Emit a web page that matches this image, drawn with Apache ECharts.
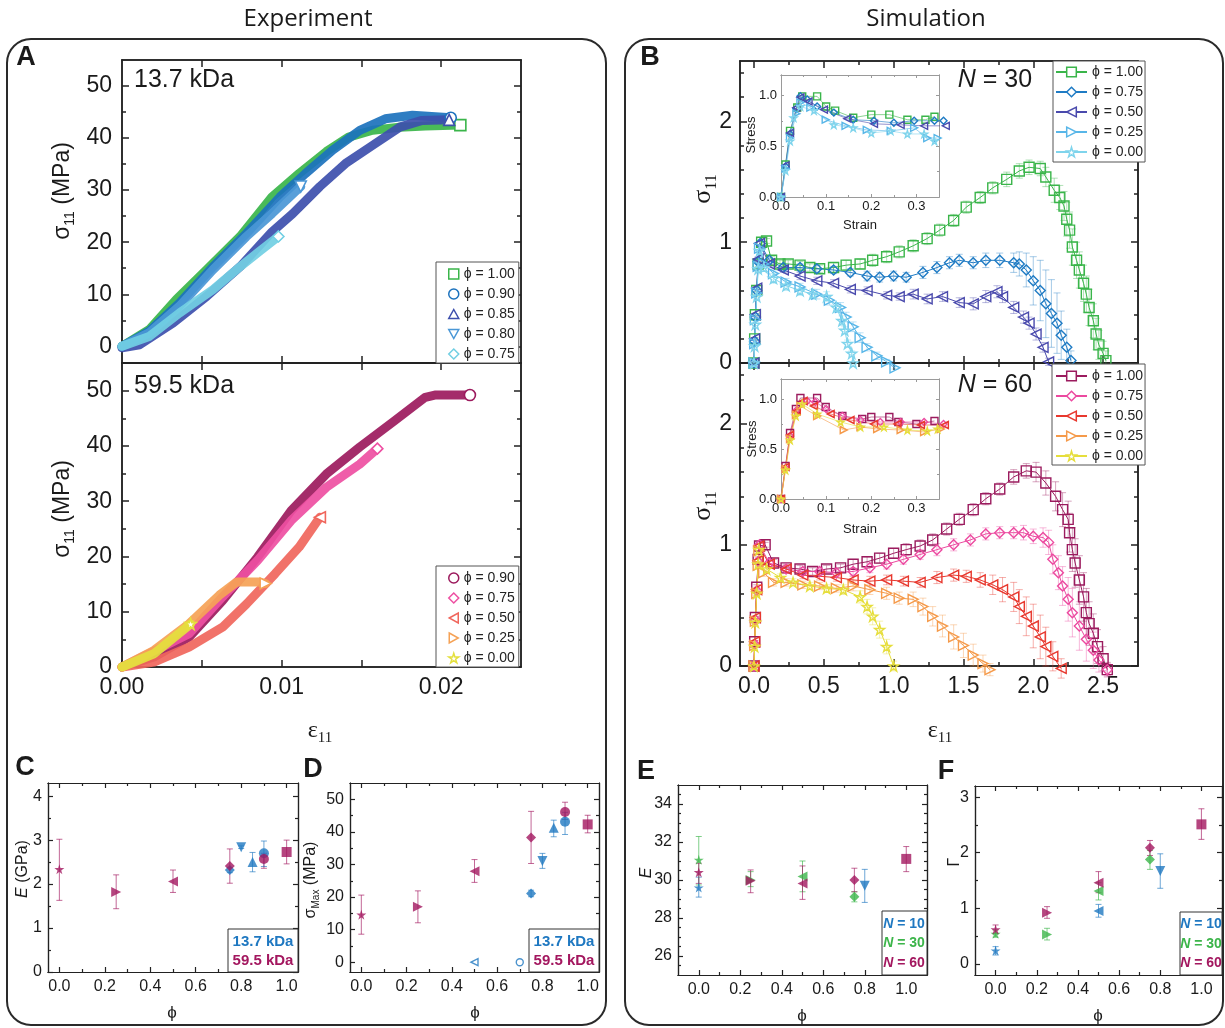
<!DOCTYPE html>
<html>
<head>
<meta charset="utf-8">
<script src="https://cdn.jsdelivr.net/npm/echarts@6/dist/echarts.min.js"></script>
<style>
html, body { margin: 0; background: #fff; }
#main { width: 1225px; height: 1028px; }
</style>
</head>
<body>
<div id="main"></div>
<script>
// ---------- data ----------
// Panel A, 13.7 kDa  [strain, stress MPa]
var a13_100 = [[0,0],[0.0017,3.2],[0.0034,9.0],[0.0053,14.7],[0.0074,21.1],[0.0094,28.7],[0.0111,33.2],[0.0128,37.4],[0.0142,40.2],[0.0157,41.5],[0.0174,42.1],[0.019,42.3],[0.0212,42.5]];
var a13_090 = [[0,0],[0.0017,2.9],[0.0036,8.3],[0.0057,15.3],[0.0078,21.7],[0.0099,28.7],[0.0115,33.2],[0.0132,37.7],[0.0149,41.5],[0.0165,43.7],[0.0182,44.4],[0.0206,43.9]];
var a13_085 = [[0,-0.3],[0.0011,0.3],[0.0032,4.5],[0.0053,9.6],[0.0074,15.3],[0.0094,22.0],[0.0107,25.5],[0.0124,30.7],[0.014,35.1],[0.0157,38.6],[0.0174,42.1],[0.0188,43.4],[0.0205,43.5]];
var a13_080 = [[0,0],[0.0017,2.6],[0.0036,7.7],[0.0057,14.7],[0.0078,21.1],[0.0094,25.5],[0.0112,30.7]];
var a13_075 = [[0,0],[0.0017,1.9],[0.0036,6.4],[0.0057,10.9],[0.0074,15.3],[0.0086,18.2],[0.0098,21.1]];
// Panel A, 59.5 kDa
var a59_090 = [[0,0],[0.002,1.8],[0.0042,5.4],[0.0063,12.0],[0.0085,19.9],[0.0106,28.3],[0.0128,34.9],[0.0149,39.8],[0.0171,44.6],[0.019,48.8],[0.0196,49.2],[0.0218,49.2]];
var a59_075 = [[0,0],[0.0042,6.0],[0.0063,12.7],[0.0085,19.3],[0.0106,26.5],[0.0128,32.5],[0.0149,36.7],[0.016,39.5]];
var a59_050 = [[0,0],[0.002,0.9],[0.0042,3.6],[0.0063,7.2],[0.0078,11.4],[0.0096,16.9],[0.0111,21.7],[0.0124,27.1]];
var a59_025 = [[0,0],[0.002,3.0],[0.0042,7.8],[0.0061,13.0],[0.0072,15.4],[0.0085,15.4],[0.009,15.1]];
var a59_000 = [[0,0],[0.002,2.4],[0.0043,7.8]];

// Panel B, N = 30  [strain, stress, error]
var b30_100 = [[0,0,0.01],[0.005,0.2,0.01],[0.01,0.4,0.01],[0.02,0.6,0.01],[0.03,0.82,0.02],[0.055,1.0,0.02],[0.09,1.01,0.02],[0.126,0.85,0.03],[0.186,0.82,0.03],[0.245,0.82,0.03],[0.33,0.81,0.03],[0.4,0.79,0.03],[0.47,0.78,0.03],[0.57,0.79,0.04],[0.66,0.81,0.04],[0.76,0.82,0.04],[0.85,0.85,0.05],[0.95,0.88,0.05],[1.04,0.92,0.05],[1.14,0.97,0.05],[1.24,1.03,0.05],[1.33,1.1,0.05],[1.43,1.18,0.05],[1.52,1.29,0.05],[1.62,1.37,0.05],[1.71,1.45,0.05],[1.81,1.52,0.06],[1.9,1.59,0.06],[1.97,1.62,0.06],[2.05,1.61,0.06],[2.09,1.54,0.08],[2.15,1.43,0.1],[2.19,1.37,0.1],[2.22,1.3,0.12],[2.24,1.19,0.14],[2.26,1.1,0.15],[2.28,0.96,0.15],[2.31,0.85,0.15],[2.33,0.77,0.15],[2.36,0.66,0.15],[2.38,0.57,0.15],[2.4,0.46,0.15],[2.43,0.35,0.14],[2.45,0.24,0.13],[2.47,0.15,0.12],[2.5,0.08,0.1],[2.52,0.02,0.08]];
var b30_075 = [[0,0,0.01],[0.005,0.18,0.01],[0.01,0.38,0.01],[0.02,0.6,0.01],[0.03,0.84,0.02],[0.045,0.99,0.02],[0.11,0.85,0.02],[0.21,0.79,0.03],[0.33,0.79,0.03],[0.45,0.78,0.03],[0.57,0.77,0.03],[0.69,0.75,0.03],[0.81,0.72,0.04],[0.9,0.71,0.04],[1.0,0.72,0.04],[1.09,0.71,0.04],[1.21,0.75,0.05],[1.31,0.79,0.05],[1.4,0.83,0.05],[1.47,0.85,0.05],[1.57,0.83,0.05],[1.66,0.85,0.06],[1.76,0.85,0.06],[1.86,0.83,0.08],[1.9,0.82,0.1],[1.95,0.77,0.14],[2.0,0.68,0.2],[2.05,0.6,0.25],[2.09,0.49,0.28],[2.13,0.41,0.28],[2.17,0.33,0.25],[2.2,0.23,0.2],[2.24,0.13,0.15],[2.27,0.02,0.08]];
var b30_050 = [[0,0,0.01],[0.005,0.2,0.01],[0.01,0.4,0.01],[0.02,0.62,0.01],[0.03,0.86,0.02],[0.04,0.99,0.02],[0.11,0.82,0.02],[0.21,0.77,0.02],[0.33,0.72,0.03],[0.45,0.68,0.03],[0.57,0.66,0.03],[0.69,0.61,0.03],[0.81,0.6,0.03],[0.95,0.56,0.03],[1.04,0.55,0.03],[1.14,0.57,0.04],[1.24,0.53,0.04],[1.35,0.55,0.04],[1.47,0.5,0.04],[1.57,0.49,0.05],[1.66,0.55,0.05],[1.74,0.59,0.05],[1.78,0.55,0.05],[1.86,0.46,0.05],[1.93,0.38,0.05],[1.97,0.33,0.05],[2.02,0.24,0.05],[2.07,0.13,0.04],[2.11,0.01,0.03]];
var b30_025 = [[0,0,0.01],[0.005,0.16,0.01],[0.01,0.36,0.01],[0.02,0.58,0.02],[0.03,0.8,0.02],[0.04,0.95,0.02],[0.07,0.82,0.03],[0.14,0.74,0.03],[0.23,0.67,0.03],[0.33,0.63,0.03],[0.45,0.57,0.04],[0.54,0.52,0.04],[0.62,0.46,0.04],[0.66,0.38,0.04],[0.71,0.3,0.04],[0.76,0.21,0.04],[0.81,0.13,0.03],[0.88,0.06,0.03],[0.95,0.01,0.02],[1.01,-0.04,0.01]];
var b30_000 = [[0,0,0.01],[0.005,0.14,0.01],[0.01,0.32,0.01],[0.02,0.55,0.02],[0.03,0.78,0.02],[0.04,0.93,0.03],[0.07,0.79,0.03],[0.14,0.7,0.04],[0.23,0.64,0.04],[0.33,0.6,0.04],[0.42,0.57,0.04],[0.52,0.55,0.04],[0.59,0.46,0.04],[0.63,0.35,0.04],[0.65,0.27,0.03],[0.67,0.16,0.03],[0.7,0.08,0.02],[0.71,0,0.01]];
// Panel B, N = 60
var b60_100 = [[0,0,0.01],[0.005,0.2,0.01],[0.01,0.4,0.01],[0.02,0.65,0.02],[0.03,0.88,0.02],[0.04,0.99,0.02],[0.08,1.0,0.02],[0.14,0.85,0.03],[0.23,0.81,0.03],[0.33,0.8,0.03],[0.42,0.78,0.03],[0.52,0.8,0.03],[0.62,0.81,0.03],[0.71,0.84,0.04],[0.81,0.86,0.04],[0.9,0.89,0.04],[1.0,0.93,0.04],[1.09,0.96,0.05],[1.19,0.99,0.05],[1.28,1.04,0.05],[1.38,1.13,0.05],[1.47,1.21,0.05],[1.57,1.29,0.05],[1.66,1.38,0.05],[1.76,1.46,0.05],[1.86,1.56,0.06],[1.95,1.61,0.06],[2.02,1.6,0.08],[2.09,1.51,0.1],[2.16,1.4,0.12],[2.21,1.29,0.14],[2.25,1.21,0.15],[2.26,1.1,0.16],[2.28,0.96,0.18],[2.3,0.85,0.2],[2.33,0.71,0.2],[2.36,0.57,0.2],[2.38,0.44,0.2],[2.4,0.35,0.18],[2.43,0.27,0.16],[2.46,0.16,0.14],[2.5,0.06,0.1],[2.53,-0.03,0.06]];
var b60_075 = [[0,0,0.01],[0.005,0.18,0.01],[0.01,0.38,0.01],[0.02,0.62,0.02],[0.03,0.86,0.02],[0.04,1.0,0.02],[0.11,0.85,0.03],[0.23,0.8,0.03],[0.35,0.78,0.03],[0.47,0.78,0.03],[0.59,0.77,0.03],[0.71,0.78,0.03],[0.83,0.81,0.04],[0.95,0.84,0.04],[1.07,0.88,0.04],[1.19,0.92,0.04],[1.31,0.96,0.05],[1.43,1.0,0.05],[1.55,1.04,0.05],[1.66,1.09,0.05],[1.76,1.1,0.05],[1.86,1.1,0.05],[1.93,1.1,0.06],[2.0,1.07,0.06],[2.07,1.06,0.08],[2.11,1.02,0.1],[2.14,0.88,0.12],[2.18,0.77,0.14],[2.21,0.66,0.16],[2.25,0.55,0.18],[2.28,0.44,0.2],[2.33,0.33,0.2],[2.38,0.22,0.18],[2.43,0.13,0.15],[2.47,0.05,0.1],[2.53,-0.03,0.05]];
var b60_050 = [[0,0,0.01],[0.005,0.2,0.01],[0.01,0.4,0.01],[0.02,0.63,0.02],[0.03,0.87,0.02],[0.035,0.99,0.02],[0.11,0.84,0.03],[0.23,0.8,0.03],[0.35,0.75,0.03],[0.47,0.74,0.03],[0.59,0.73,0.03],[0.71,0.71,0.03],[0.83,0.7,0.04],[0.95,0.71,0.04],[1.07,0.7,0.04],[1.19,0.69,0.04],[1.31,0.73,0.05],[1.43,0.75,0.05],[1.52,0.74,0.05],[1.62,0.71,0.06],[1.71,0.67,0.08],[1.78,0.63,0.1],[1.86,0.57,0.12],[1.9,0.49,0.14],[1.95,0.41,0.16],[2.0,0.33,0.18],[2.05,0.24,0.18],[2.09,0.16,0.16],[2.14,0.08,0.12],[2.2,-0.02,0.08]];
var b60_025 = [[0,0,0.01],[0.005,0.17,0.01],[0.01,0.37,0.01],[0.02,0.6,0.02],[0.03,0.83,0.02],[0.035,0.95,0.02],[0.07,0.77,0.03],[0.14,0.69,0.03],[0.23,0.69,0.03],[0.35,0.67,0.03],[0.47,0.66,0.03],[0.59,0.64,0.03],[0.71,0.66,0.04],[0.83,0.63,0.04],[0.95,0.6,0.05],[1.04,0.56,0.05],[1.14,0.55,0.06],[1.21,0.49,0.07],[1.28,0.41,0.08],[1.35,0.33,0.09],[1.43,0.24,0.1],[1.5,0.17,0.1],[1.57,0.09,0.09],[1.64,0.02,0.07],[1.69,-0.03,0.05]];
var b60_000 = [[0,0,0.01],[0.005,0.16,0.01],[0.01,0.36,0.01],[0.02,0.6,0.02],[0.03,0.84,0.02],[0.035,0.96,0.02],[0.09,0.8,0.03],[0.19,0.73,0.03],[0.28,0.69,0.03],[0.4,0.66,0.03],[0.52,0.64,0.03],[0.64,0.63,0.04],[0.76,0.57,0.05],[0.81,0.49,0.06],[0.85,0.41,0.07],[0.9,0.3,0.07],[0.95,0.16,0.06],[1.0,0,0.04]];

// insets [strain, stress]
var i30_100 = [[0,0],[0.01,0.32],[0.02,0.65],[0.036,0.88],[0.047,0.99],[0.08,0.99],[0.1,0.89],[0.12,0.85],[0.16,0.78],[0.2,0.81],[0.24,0.81],[0.28,0.76],[0.32,0.76],[0.34,0.79]];
var i30_075 = [[0,0],[0.01,0.3],[0.02,0.62],[0.034,0.87],[0.043,0.99],[0.058,0.96],[0.08,0.89],[0.117,0.83],[0.16,0.76],[0.206,0.75],[0.25,0.73],[0.295,0.75],[0.34,0.75],[0.36,0.75]];
var i30_050 = [[0,0],[0.01,0.31],[0.02,0.63],[0.034,0.88],[0.043,0.98],[0.061,0.94],[0.095,0.86],[0.147,0.77],[0.206,0.72],[0.265,0.71],[0.317,0.7],[0.365,0.7]];
var i30_025 = [[0,0],[0.01,0.28],[0.02,0.58],[0.034,0.82],[0.043,0.93],[0.065,0.88],[0.099,0.76],[0.143,0.7],[0.19,0.66],[0.243,0.65],[0.295,0.68],[0.324,0.58],[0.347,0.58]];
var i30_000 = [[0,0],[0.01,0.26],[0.02,0.55],[0.028,0.78],[0.043,0.89],[0.073,0.85],[0.117,0.71],[0.16,0.68],[0.2,0.63],[0.243,0.65],[0.28,0.62],[0.317,0.62],[0.34,0.55]];
var i60_100 = [[0,0],[0.01,0.33],[0.02,0.66],[0.033,0.9],[0.043,1.01],[0.08,1.01],[0.099,0.92],[0.136,0.83],[0.18,0.8],[0.2,0.82],[0.24,0.82],[0.26,0.77],[0.3,0.75],[0.34,0.78]];
var i60_075 = [[0,0],[0.01,0.31],[0.02,0.63],[0.035,0.89],[0.058,0.98],[0.076,0.97],[0.1,0.9],[0.136,0.83],[0.176,0.79],[0.22,0.77],[0.265,0.77],[0.317,0.77],[0.36,0.75]];
var i60_050 = [[0,0],[0.01,0.32],[0.02,0.64],[0.035,0.88],[0.05,0.98],[0.073,0.93],[0.11,0.85],[0.154,0.79],[0.206,0.75],[0.258,0.75],[0.31,0.74],[0.363,0.74]];
var i60_025 = [[0,0],[0.01,0.3],[0.02,0.6],[0.033,0.84],[0.043,0.93],[0.08,0.83],[0.139,0.69],[0.176,0.72],[0.213,0.7],[0.265,0.69],[0.317,0.67],[0.354,0.7]];
var i60_000 = [[0,0],[0.01,0.29],[0.02,0.59],[0.033,0.83],[0.047,0.95],[0.08,0.85],[0.132,0.77],[0.176,0.72],[0.228,0.72],[0.28,0.69],[0.324,0.68],[0.347,0.7]];

// C - F  [phi, value, low, high]
var c137 = [[0.75,2.32,2.26,2.38],[0.8,2.84,2.81,2.87],[0.85,2.5,2.28,2.72],[0.9,2.7,2.4,2.98]];
var c595 = [[0,2.34,1.63,3.02],[0.25,1.82,1.44,2.21],[0.5,2.06,1.81,2.32],[0.75,2.41,2.02,2.8],[0.9,2.57,2.36,2.7],[1.0,2.73,2.46,3.0]];
var d137 = [[0.75,21.1,20.1,22.1],[0.8,31.1,28.8,33.4],[0.85,41.3,38.5,43.6],[0.9,43.1,39.2,46.0]];
var d137zero = [[0.5,0],[0.7,0]];
var d595 = [[0,14.6,8.6,20.6],[0.25,17.0,12.1,21.9],[0.5,27.9,24.5,31.5],[0.75,38.3,30.3,46.3],[0.9,46.1,43.8,49.1],[1.0,42.3,39.7,45.1]];
var eN10 = [[0,29.6,29.1,30.15],[0.8,29.7,28.82,30.56]];
var eN30 = [[0,31.06,29.74,32.29],[0.25,30.0,29.65,30.44],[0.5,30.18,29.38,31.0],[0.75,29.12,28.85,29.38]];
var eN60 = [[0,30.41,29.82,30.88],[0.25,29.96,29.33,30.53],[0.5,29.82,28.98,30.74],[0.75,30.0,29.38,30.62],[1.0,31.11,30.44,31.76]];
var fN10 = [[0,0.24,0.16,0.31],[0.5,0.95,0.84,1.07],[0.8,1.67,1.36,1.98]];
var fN30 = [[0,0.54,0.48,0.61],[0.25,0.53,0.43,0.64],[0.5,1.31,1.15,1.46],[0.75,1.88,1.7,2.04]];
var fN60 = [[0,0.62,0.55,0.7],[0.25,0.92,0.82,1.03],[0.5,1.46,1.28,1.66],[0.75,2.09,1.95,2.22],[1.0,2.51,2.24,2.79]];

var phiLabels = ['ϕ = 1.00', 'ϕ = 0.90', 'ϕ = 0.85', 'ϕ = 0.80', 'ϕ = 0.75', 'ϕ = 0.50', 'ϕ = 0.25', 'ϕ = 0.00'];

// ---------- styling ----------
var SANS = '"Liberation Sans", Arial, sans-serif';
var SERIF = '"Liberation Serif", "Times New Roman", serif';
var BLUE = '#1f78c1', GREEN = '#3cb54a', MAG = '#a3175f';

var SYM = {
  sq: 'rect',
  ci: 'circle',
  di: 'diamond',
  up: 'path://M5,0L10,9L0,9Z',
  dn: 'path://M0,0L10,0L5,9Z',
  lt: 'path://M0,5L9,0L9,10Z',
  rt: 'path://M0,0L9,5L0,10Z',
  st: 'path://M50,0L61,35L98,35L68,57L79,91L50,70L21,91L32,57L2,35L39,35Z'
};
function phiSym(p) {
  if (p === 0) return SYM.st;
  if (p === 0.25) return SYM.rt;
  if (p === 0.5) return SYM.lt;
  if (p === 0.7) return SYM.ci;
  if (p === 0.75) return SYM.di;
  if (p === 0.8) return SYM.dn;
  if (p === 0.85) return SYM.up;
  if (p === 0.9) return SYM.ci;
  return SYM.sq;
}

function rng(a, b, s) {
  var out = [];
  for (var i = 0; a + i * s <= b + 1e-9; i++) out.push(+(a + i * s).toFixed(6));
  return out;
}

var grids = [], xAxes = [], yAxes = [], series = [], legends = [], gfx = [];

function ax(g, pos, min, max, ticks, len, labels, o, d) {
  return {
    gridIndex: g, type: 'value', position: pos, min: min, max: max,
    axisLine: { show: true, onZero: false, lineStyle: { color: o.c, width: o.lw } },
    axisTick: { show: ticks.length > 0, inside: true, length: len, customValues: ticks, lineStyle: { color: o.c, width: o.lw } },
    axisLabel: labels ? { show: true, customValues: labels, formatter: o[d + 'f'], fontSize: o.fs, fontFamily: SANS, color: '#1a1a1a', margin: o[d + 'm'] } : { show: false },
    splitLine: { show: false }
  };
}

function frame(box, o) {
  var g = grids.length;
  var gr = { left: box[0], top: box[1], width: box[2], height: box[3], containLabel: false, outerBoundsMode: 'none' };
  if (o.bg) { gr.show = true; gr.backgroundColor = '#fff'; gr.borderWidth = 0; }
  grids.push(gr);
  var xi = xAxes.length, yi = yAxes.length;
  xAxes.push(ax(g, 'bottom', o.x[0], o.x[1], o.xt, o.tl, o.xl, o, 'x'));
  xAxes.push(ax(g, 'bottom', o.x[0], o.x[1], o.xmt || [], o.ml, null, o, 'x'));
  xAxes.push(ax(g, 'top', o.x[0], o.x[1], o.xt, o.tl, null, o, 'x'));
  xAxes.push(ax(g, 'top', o.x[0], o.x[1], o.xmt || [], o.ml, null, o, 'x'));
  yAxes.push(ax(g, 'left', o.y[0], o.y[1], o.yt, o.tl, o.yl, o, 'y'));
  yAxes.push(ax(g, 'left', o.y[0], o.y[1], o.ymt || [], o.ml, null, o, 'y'));
  yAxes.push(ax(g, 'right', o.y[0], o.y[1], o.yt, o.tl, null, o, 'y'));
  yAxes.push(ax(g, 'right', o.y[0], o.y[1], o.ymt || [], o.ml, null, o, 'y'));
  return { x: xi, y: yi };
}

function errRender(color, cap, lw, op) {
  return function (params, api) {
    var x = api.value(0);
    var p1 = api.coord([x, api.value(2)]);
    var p2 = api.coord([x, api.value(3)]);
    var st = { stroke: color, lineWidth: lw, opacity: op };
    return {
      type: 'group', children: [
        { type: 'line', shape: { x1: p1[0], y1: p1[1], x2: p2[0], y2: p2[1] }, style: st },
        { type: 'line', shape: { x1: p1[0] - cap, y1: p1[1], x2: p1[0] + cap, y2: p1[1] }, style: st },
        { type: 'line', shape: { x1: p2[0] - cap, y1: p2[1], x2: p2[0] + cap, y2: p2[1] }, style: st }
      ]
    };
  };
}

// thick experimental curves (panel A)
function bandSeries(name, ref, pts, sym, c) {
  var last = pts.length - 1;
  series.push({
    type: 'line', name: name, xAxisIndex: ref.x, yAxisIndex: ref.y, data: pts,
    symbol: SYM[sym], showAllSymbol: true,
    symbolSize: function (v, p) { return p.dataIndex === last ? 11 : 0; },
    lineStyle: { color: c, width: 9, cap: 'round', join: 'round', opacity: 0.92 },
    itemStyle: { color: '#fff', borderColor: c, borderWidth: 1.6 },
    clip: false, silent: true, z: 3
  });
}

// simulation curves (panel B), hollow markers + error bars
function simSeries(name, ref, pts, sym, c, size, lw) {
  if (pts[0].length > 2) {
    series.push({
      type: 'custom', xAxisIndex: ref.x, yAxisIndex: ref.y,
      data: pts.map(function (p) { return [p[0], p[1], p[1] - p[2], p[1] + p[2]]; }),
      renderItem: errRender(c, 3.5, 0.8, 0.5), silent: true, clip: false, z: 2
    });
  }
  series.push({
    type: 'line', name: name, xAxisIndex: ref.x, yAxisIndex: ref.y,
    data: pts.map(function (p) { return [p[0], p[1]]; }),
    symbol: SYM[sym], symbolSize: size, showAllSymbol: true,
    lineStyle: { color: c, width: lw },
    itemStyle: { color: 'rgba(255,255,255,0)', borderColor: c, borderWidth: 1.4 },
    clip: false, silent: true, z: 3
  });
}

// summary points (panels C - F)
function dotSeries(ref, pts, c) {
  series.push({
    type: 'custom', xAxisIndex: ref.x, yAxisIndex: ref.y, data: pts,
    renderItem: errRender(c, 3, 1, 0.65), silent: true, clip: false, z: 2
  });
  series.push({
    type: 'scatter', xAxisIndex: ref.x, yAxisIndex: ref.y,
    data: pts.map(function (p) { return [p[0], p[1]]; }),
    symbol: function (v) { return phiSym(v[0]); }, symbolSize: 10,
    itemStyle: { color: c }, silent: true, clip: false, z: 4
  });
}

function legendBox(left, top, pad, names, items, withLine) {
  legends.push({
    show: true, orient: 'vertical', left: left, top: top, padding: pad,
    itemGap: 6, itemWidth: withLine ? 31 : 10, itemHeight: withLine ? 12 : 10,
    selectedMode: false, backgroundColor: '#fff', borderColor: '#555', borderWidth: 1,
    textStyle: { fontSize: 14, fontFamily: SANS, color: '#222', lineHeight: 14 },
    formatter: function (n) { return n.split('|')[1]; },
    data: names.map(function (n, i) {
      var it = items[i];
      var d = { name: n, itemStyle: { color: withLine ? '#fff' : 'rgba(255,255,255,0)', borderColor: it[1], borderWidth: 1.5 } };
      if (!withLine) d.icon = SYM[it[0]];
      return d;
    })
  });
}

// ---------- panel A ----------
var aOpt = { c: '#222', lw: 1.5, fs: 23, tl: 7, ml: 4, xm: 9, ym: 10,
  xf: function (v) { return v.toFixed(2); }, yf: function (v) { return String(v); },
  xt: rng(0.005, 0.02, 0.005), yt: rng(0, 50, 10), ymt: rng(5, 45, 10) };
var gA1 = frame([122, 60, 399, 303], Object.assign({}, aOpt, { x: [0, 0.025], y: [-3.2, 55], yl: rng(0, 50, 10) }));
var gA2 = frame([122, 363, 399, 304], Object.assign({}, aOpt, { x: [0, 0.025], y: [0, 55], yl: rng(0, 50, 10), xl: [0, 0.01, 0.02] }));

var A1 = [['sq', '#3ab54a', a13_100, 0], ['ci', '#1c72bd', a13_090, 1], ['up', '#3d4fad', a13_085, 2], ['dn', '#4a97d6', a13_080, 3], ['di', '#72cfe3', a13_075, 4]];
A1.forEach(function (s) { bandSeries('A1|' + phiLabels[s[3]], gA1, s[2], s[0], s[1]); });
legendBox(436, 262, [5, 4, 2, 12], A1.map(function (s) { return 'A1|' + phiLabels[s[3]]; }), A1, false);

var A2 = [['ci', '#9c1a5d', a59_090, 1], ['di', '#ee4fa2', a59_075, 4], ['lt', '#f0665c', a59_050, 5], ['rt', '#f5a256', a59_025, 6], ['st', '#e4e03e', a59_000, 7]];
A2.forEach(function (s) { bandSeries('A2|' + phiLabels[s[3]], gA2, s[2], s[0], s[1]); });
legendBox(436, 566, [5, 4, 2, 12], A2.map(function (s) { return 'A2|' + phiLabels[s[3]]; }), A2, false);

// ---------- panel B ----------
var bOpt = { c: '#222', lw: 1.5, fs: 23, tl: 7, ml: 4, xm: 9, ym: 8,
  xf: function (v) { return v.toFixed(1); }, yf: function (v) { return String(v); },
  x: [-0.1, 2.75], y: [0, 2.5], xt: rng(0, 2.5, 0.5), xmt: rng(0.25, 2.25, 0.5),
  yt: [0, 1, 2], ymt: [0.2, 0.4, 0.6, 0.8, 1.2, 1.4, 1.6, 1.8, 2.2, 2.4], yl: [0, 1, 2] };
var gB1 = frame([740, 61, 398, 302], bOpt);
var gB2 = frame([740, 363, 398, 303], Object.assign({}, bOpt, { xl: rng(0, 2.5, 0.5) }));

var iOpt = { c: '#9a9a9a', lw: 1, fs: 13, tl: 3, ml: 2, xm: 3, ym: 4, bg: true,
  xf: function (v) { return v.toFixed(1); }, yf: function (v) { return v.toFixed(1); },
  x: [0, 0.35], y: [0, 1.2], xt: [0, 0.1, 0.2, 0.3], xmt: [0.05, 0.15, 0.25], yt: [0, 0.5, 1.0], ymt: [0.25, 0.75],
  xl: [0, 0.1, 0.2, 0.3], yl: [0, 0.5, 1.0] };
var gI1 = frame([781, 75, 158, 122], iOpt);
var gI2 = frame([781, 379, 158, 120], iOpt);

var B1 = [['sq', '#3ab54a', b30_100, i30_100, 0], ['di', '#1f7bc4', b30_075, i30_075, 4], ['lt', '#4a4aad', b30_050, i30_050, 5], ['rt', '#58b6e8', b30_025, i30_025, 6], ['st', '#7fd4ec', b30_000, i30_000, 7]];
B1.forEach(function (s) {
  simSeries('B1|' + phiLabels[s[4]], gB1, s[2], s[0], s[1], 10, 1);
  simSeries('I1|' + phiLabels[s[4]], gI1, s[3], s[0], s[1], 7, 0.6);
});
legendBox(1053, 61, [4, 2, 3, 2], B1.map(function (s) { return 'B1|' + phiLabels[s[4]]; }), B1, true);

var B2 = [['sq', '#9b1b5e', b60_100, i60_100, 0], ['di', '#ec4aa0', b60_075, i60_075, 4], ['lt', '#e8382e', b60_050, i60_050, 5], ['rt', '#f59a4a', b60_025, i60_025, 6], ['st', '#e6de3c', b60_000, i60_000, 7]];
B2.forEach(function (s) {
  simSeries('B2|' + phiLabels[s[4]], gB2, s[2], s[0], s[1], 10, 1);
  simSeries('I2|' + phiLabels[s[4]], gI2, s[3], s[0], s[1], 7, 0.6);
});
legendBox(1052, 364, [5, 2, 2, 3], B2.map(function (s) { return 'B2|' + phiLabels[s[4]]; }), B2, true);

// ---------- panels C - F ----------
var sOpt = { c: '#222', lw: 1.2, fs: 16, tl: 5, ml: 3, xm: 7, ym: 6,
  xf: function (v) { return v.toFixed(1); }, yf: function (v) { return String(v); },
  xt: rng(0, 1, 0.2), xmt: rng(0.1, 0.9, 0.2), xl: rng(0, 1, 0.2) };
var gC = frame([48, 783, 250, 189], Object.assign({}, sOpt, { x: [-0.05, 1.05], y: [0, 4.3], yt: [0, 1, 2, 3, 4], ymt: [0.5, 1.5, 2.5, 3.5], yl: [0, 1, 2, 3, 4] }));
var gD = frame([350, 783, 249, 189], Object.assign({}, sOpt, { x: [-0.05, 1.05], y: [-3, 55], yt: rng(0, 50, 10), ymt: rng(5, 45, 10), yl: rng(0, 50, 10) }));
var gE = frame([678, 785, 249, 190], Object.assign({}, sOpt, { x: [-0.1, 1.1], y: [25, 35], yt: rng(26, 34, 2),
  ymt: rng(25.5, 34.5, 0.5).filter(function (v) { return Math.abs(v / 2 - Math.round(v / 2)) > 1e-6; }), yl: rng(26, 34, 2) }));
var gF = frame([975, 786, 247, 189], Object.assign({}, sOpt, { x: [-0.1, 1.1], y: [-0.2, 3.2], yt: [0, 1, 2, 3], ymt: [0.5, 1.5, 2.5], yl: [0, 1, 2, 3] }));

dotSeries(gC, c137, BLUE);
dotSeries(gC, c595, MAG);
dotSeries(gD, d137, BLUE);
dotSeries(gD, d595, MAG);
series.push({
  type: 'scatter', xAxisIndex: gD.x, yAxisIndex: gD.y, data: d137zero,
  symbol: function (v) { return phiSym(v[0]); }, symbolSize: 7,
  itemStyle: { color: '#fff', borderColor: BLUE, borderWidth: 1.4 }, silent: true, z: 4
});
dotSeries(gE, eN10, BLUE);
dotSeries(gE, eN30, GREEN);
dotSeries(gE, eN60, MAG);
dotSeries(gF, fN10, BLUE);
dotSeries(gF, fN30, GREEN);
dotSeries(gF, fN60, MAG);

// ---------- text and frames ----------
function txt(x, y, text, font, extra) {
  var el = { type: 'text', x: x, y: y, silent: true, z: 10,
    style: { text: text, font: font, fill: '#1a1a1a', align: 'center', verticalAlign: 'middle', textAlign: 'center', textVerticalAlign: 'middle' } };
  if (extra) {
    if (extra.rotation) el.rotation = extra.rotation;
    if (extra.rich) el.style.rich = extra.rich;
    if (extra.fill) el.style.fill = extra.fill;
    if (extra.align) { el.style.align = extra.align; el.style.textAlign = extra.align; }
  }
  gfx.push(el);
}
function subRich(size, fam) {
  return {
    a: { fontSize: size, fontFamily: fam, lineHeight: Math.round(size * 1.25), fill: '#1a1a1a', color: '#1a1a1a' },
    s: { fontSize: Math.round(size * 0.62), fontFamily: fam, lineHeight: Math.round(size * 0.7), verticalAlign: 'bottom', fill: '#1a1a1a', color: '#1a1a1a' },
    i: { fontSize: size, fontFamily: fam, fontStyle: 'italic', lineHeight: Math.round(size * 1.25), fill: '#1a1a1a', color: '#1a1a1a' }
  };
}
var ROT = Math.PI / 2;

gfx.push({ type: 'rect', silent: true, shape: { x: 7, y: 39, width: 599, height: 986, r: 24 }, style: { fill: 'none', stroke: '#2a2a2a', lineWidth: 2 } });
gfx.push({ type: 'rect', silent: true, shape: { x: 625, y: 39, width: 598, height: 986, r: 24 }, style: { fill: 'none', stroke: '#2a2a2a', lineWidth: 2 } });

txt(308, 19, 'Experiment', '24px "Open Sans"');
txt(926, 19, 'Simulation', '24px "Open Sans"');

var LET = 'bold 27px ' + SANS;
txt(26, 58, 'A', LET);
txt(650, 58, 'B', LET);
txt(25, 768, 'C', LET);
txt(313, 770, 'D', LET);
txt(646, 772, 'E', LET);
txt(946, 772, 'F', LET);

txt(134, 80, '13.7 kDa', '25px ' + SANS, { align: 'left' });
txt(134, 386, '59.5 kDa', '25px ' + SANS, { align: 'left' });
txt(995, 80, '{i|N} = 30', '25px ' + SANS, { rich: subRich(25, SANS) });
txt(995, 385, '{i|N} = 60', '25px ' + SANS, { rich: subRich(25, SANS) });

txt(63, 191, '{a|σ}{s|11}{a| (MPa)}', '23px ' + SANS, { rotation: ROT, rich: subRich(23, SANS) });
txt(63, 509, '{a|σ}{s|11}{a| (MPa)}', '23px ' + SANS, { rotation: ROT, rich: subRich(23, SANS) });
txt(320, 731, '{a|ε}{s|11}', '24px ' + SERIF, { rich: subRich(24, SERIF) });
txt(940, 731, '{a|ε}{s|11}', '24px ' + SERIF, { rich: subRich(24, SERIF) });
txt(703, 189, '{a|σ}{s|11}', '26px ' + SERIF, { rotation: ROT, rich: subRich(26, SERIF) });
txt(703, 506, '{a|σ}{s|11}', '26px ' + SERIF, { rotation: ROT, rich: subRich(26, SERIF) });

txt(751, 135, 'Stress', '13px ' + SANS, { rotation: ROT });
txt(752, 439, 'Stress', '13px ' + SANS, { rotation: ROT });
txt(860, 225, 'Strain', '13px ' + SANS);
txt(860, 529, 'Strain', '13px ' + SANS);

txt(23, 869, '{i|E}{a| (GPa)}', '16px ' + SANS, { rotation: ROT, rich: subRich(16, SANS) });
txt(311, 880, '{a|σ}{s|Max}{a| (MPa)}', '16px ' + SANS, { rotation: ROT, rich: subRich(16, SANS) });
txt(647, 873, '{i|E}', '16px ' + SANS, { rotation: ROT, rich: subRich(16, SANS) });
txt(955, 862, 'Γ', '16px ' + SANS, { rotation: ROT });
txt(172, 1013, 'ϕ', '17px ' + SANS);
txt(475, 1013, 'ϕ', '17px ' + SANS);
txt(802, 1016, 'ϕ', '17px ' + SANS);
txt(1098, 1016, 'ϕ', '17px ' + SANS);

// box legends of C - F
function boxLegend(x, y, w, h, lines, cx, ys, size) {
  gfx.push({ type: 'rect', silent: true, z: 9, shape: { x: x, y: y, width: w, height: h }, style: { fill: '#fff', stroke: '#333', lineWidth: 1 } });
  lines.forEach(function (l, i) {
    var rich = { i: { fontSize: size, fontFamily: SANS, fontWeight: 'bold', fontStyle: 'italic', fill: l[1], color: l[1] } };
    txt(cx, ys[i], l[0], 'bold ' + size + 'px ' + SANS, { fill: l[1], rich: rich });
  });
}
boxLegend(228, 929, 70, 43, [['13.7 kDa', BLUE], ['59.5 kDa', MAG]], 263, [942, 961], 15);
boxLegend(529, 929, 70, 43, [['13.7 kDa', BLUE], ['59.5 kDa', MAG]], 564, [942, 961], 15);
boxLegend(882, 911, 45, 64, [['{i|N} = 10', BLUE], ['{i|N} = 30', GREEN], ['{i|N} = 60', MAG]], 904, [924, 943.5, 963], 14);
boxLegend(1180, 912, 42, 63, [['{i|N} = 10', BLUE], ['{i|N} = 30', GREEN], ['{i|N} = 60', MAG]], 1201, [924, 944, 963], 14);

var chart = echarts.init(document.getElementById('main'), null, { renderer: 'canvas' });
chart.setOption({
  animation: false,
  backgroundColor: '#fff',
  grid: grids,
  xAxis: xAxes,
  yAxis: yAxes,
  legend: legends,
  series: series,
  graphic: { elements: gfx }
});
</script>
</body>
</html>
